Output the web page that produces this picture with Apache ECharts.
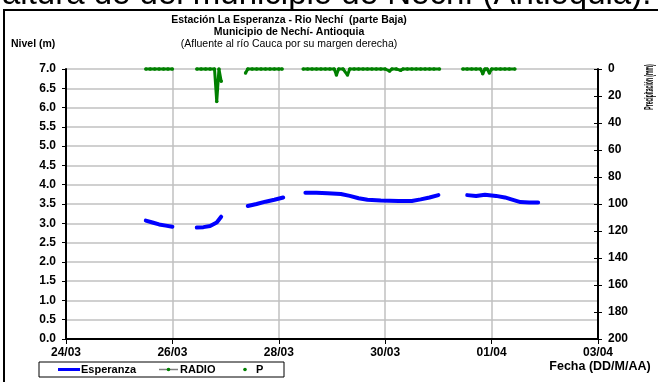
<!DOCTYPE html>
<html>
<head>
<meta charset="utf-8">
<script src="https://cdn.jsdelivr.net/npm/echarts@6/dist/echarts.min.js"></script>
<style>html,body{margin:0;padding:0;background:#fff;}#c{width:658px;height:382px;}</style>
</head>
<body>
<div id="c"></div>
<script>
// ---- data (hours since 24/03 00:00) ----
const xTickLabels = ["24/03", "26/03", "28/03", "30/03", "01/04", "03/04"];
const espHours = [36, 39, 42, 45, 48, 53,
  59, 62, 65, 68, 70, 76,
  82, 86, 90, 94, 98, 103,
  108, 113, 118, 124, 128, 132, 136, 142, 150, 156, 160, 164, 168, 174,
  181, 185, 189, 194, 198, 202, 205, 209, 213];
const espLevel = [3.07, 3.02, 2.97, 2.94, 2.91, null,
  2.89, 2.90, 2.93, 3.02, 3.17, null,
  3.45, 3.50, 3.56, 3.61, 3.67, null,
  3.79, 3.79, 3.78, 3.76, 3.71, 3.65, 3.61, 3.59, 3.58, 3.58, 3.62, 3.67, 3.73, null,
  3.73, 3.71, 3.74, 3.71, 3.67, 3.60, 3.55, 3.54, 3.54];
const pHours = [36, 38, 40, 42, 44, 46, 48, 53,
  59, 61, 63, 65, 67, 68, 69, 70, 76,
  81, 82, 84, 86, 88, 90, 92, 94, 96, 97.5, 103,
  107, 109, 111, 113, 115, 117, 119, 121, 122, 123, 125, 127, 128, 130, 132, 134, 136, 138, 140, 142, 144, 146, 147, 149, 151, 152, 154, 156, 158, 160, 162, 164, 166, 168.5, 174,
  179, 181, 183, 185, 187, 188, 189, 190, 191, 192, 194, 196, 198, 200, 202.5];
const pMm = [0, 0, 0, 0, 0, 0, 0, null,
  0, 0, 0, 0, 0, 24, 0, 9, null,
  3, 0, 0, 0, 0, 0, 0, 0, 0, 0, null,
  0, 0, 0, 0, 0, 0, 0, 0, 4.5, 0, 0, 4.5, 0, 0, 0, 0, 0, 0, 0, 0, 0, 1.5, 0, 0, 1, 0, 0, 0, 0, 0, 0, 0, 0, 0, null,
  0, 0, 0, 0, 0, 3.5, 0, 0, 3, 0, 0, 0, 0, 0, 0];

const espData = espHours.map((h, i) => [h, espLevel[i] === null ? '-' : espLevel[i]]);
const pData = pHours.map((h, i) => [h, pMm[i] === null ? '-' : pMm[i]]);

const GREEN = '#008000';
const chart = echarts.init(document.getElementById('c'), null, {renderer: 'canvas'});
const legendFont = 'bold 11px "Liberation Sans", Arial, sans-serif';

chart.setOption({
  animation: false,
  backgroundColor: '#fff',
  grid: {left: 66, right: 60, top: 69, bottom: 43, containLabel: false},
  xAxis: {
    type: 'value', min: 0, max: 240, interval: 48,
    axisLine: {show: true, onZero: false, lineStyle: {color: '#000', width: 2}},
    axisTick: {show: true, inside: false, length: 5, lineStyle: {color: '#000', width: 1}},
    axisLabel: {margin: 8, color: '#000', fontWeight: 'bold', fontSize: 12, fontFamily: 'Liberation Sans',
      formatter: v => xTickLabels[Math.round(v / 48)] || ''},
    splitLine: {show: true, lineStyle: {color: '#c0c0c0', width: 1.5}}
  },
  yAxis: [
    {
      type: 'value', min: 0, max: 7, interval: 0.5, position: 'left',
      axisLine: {show: true, lineStyle: {color: '#000', width: 2}},
      axisTick: {show: true, inside: false, length: 4, lineStyle: {color: '#000'}},
      axisLabel: {margin: 10, color: '#000', fontWeight: 'bold', fontSize: 12, fontFamily: 'Liberation Sans',
        formatter: v => v.toFixed(1)},
      splitLine: {show: true, lineStyle: {color: '#c0c0c0', width: 1.5}}
    },
    {
      type: 'value', min: 0, max: 200, interval: 20, inverse: true, position: 'right',
      axisLine: {show: true, lineStyle: {color: '#000', width: 2}},
      axisTick: {show: true, inside: false, length: 4, lineStyle: {color: '#000'}},
      axisLabel: {margin: 10, color: '#000', fontWeight: 'bold', fontSize: 12, fontFamily: 'Liberation Sans'},
      splitLine: {show: false}
    },
    {
      type: 'value', min: 0, max: 200, interval: 20, inverse: true, position: 'right',
      axisLine: {show: false},
      axisTick: {show: true, inside: true, length: 4, lineStyle: {color: '#000'}},
      axisLabel: {show: false},
      splitLine: {show: false}
    }
  ],
  series: [
    {
      name: 'Esperanza', type: 'line', yAxisIndex: 0, data: espData,
      showSymbol: false, symbol: 'none', connectNulls: false, smooth: false, clip: false,
      lineStyle: {color: '#0000ff', width: 4, cap: 'round', join: 'round'}, z: 3
    },
    {
      name: 'RADIO', type: 'line', yAxisIndex: 1, data: pData,
      symbol: 'circle', symbolSize: 3, showSymbol: true, connectNulls: false, clip: false,
      itemStyle: {color: GREEN}, lineStyle: {color: GREEN, width: 3}, z: 4
    },
    {
      name: 'P', type: 'scatter', yAxisIndex: 1, data: pData, clip: false,
      symbol: 'circle', symbolSize: 3.5, itemStyle: {color: GREEN}, z: 5
    }
  ],
  graphic: [
    {type: 'text', x: 2, y: -5, silent: true,
      style: {text: 'altura de del municipio de Nechí (Antioquia).', font: '33px "Liberation Sans", Arial, sans-serif', fill: '#000', align: 'left', verticalAlign: 'middle'}},
    {type: 'rect', silent: true,
      shape: {x: 4, y: 10, width: 700, height: 400}, style: {fill: 'none', stroke: '#000', lineWidth: 2}},
    {type: 'text', x: 289, y: 20, style: {text: 'Estación La Esperanza - Rio Nechí  (parte Baja)', font: 'bold 10.5px "Liberation Sans", Arial', fill: '#000', align: 'center', verticalAlign: 'middle'}},
    {type: 'text', x: 289, y: 32, style: {text: 'Municipio de Nechí- Antioquia', font: 'bold 10.5px "Liberation Sans", Arial', fill: '#000', align: 'center', verticalAlign: 'middle'}},
    {type: 'text', x: 289, y: 44, style: {text: '(Afluente al río Cauca por su margen derecha)', font: '10.5px "Liberation Sans", Arial', fill: '#000', align: 'center', verticalAlign: 'middle'}},
    {type: 'text', x: 11, y: 44, style: {text: 'Nivel (m)', font: 'bold 10.5px "Liberation Sans", Arial', fill: '#000', align: 'left', verticalAlign: 'middle'}},
    {type: 'text', x: 650, y: 87, rotation: Math.PI / 2, scaleX: 0.42, scaleY: 1,
      style: {text: 'Precipitación (mm)', font: 'bold 12px "Liberation Sans", Arial', fill: '#000', align: 'center', verticalAlign: 'middle'}},
    {type: 'text', x: 600, y: 367, style: {text: 'Fecha (DD/M/AA)', font: 'bold 12.5px "Liberation Sans", Arial', fill: '#000', align: 'center', verticalAlign: 'middle'}},
    // legend
    {type: 'rect', shape: {x: 39, y: 362, width: 245, height: 15}, style: {fill: '#fff', stroke: '#000', lineWidth: 1}},
    {type: 'line', shape: {x1: 58, y1: 369.5, x2: 80, y2: 369.5}, style: {stroke: '#0000ff', lineWidth: 3}},
    {type: 'text', x: 81, y: 370, style: {text: 'Esperanza', font: legendFont, fill: '#000', align: 'left', verticalAlign: 'middle'}},
    {type: 'line', shape: {x1: 159, y1: 369.5, x2: 178, y2: 369.5}, style: {stroke: '#808080', lineWidth: 1.5}},
    {type: 'circle', shape: {cx: 168.5, cy: 369.5, r: 1.8}, style: {fill: GREEN}},
    {type: 'text', x: 180, y: 370, style: {text: 'RADIO', font: legendFont, fill: '#000', align: 'left', verticalAlign: 'middle'}},
    {type: 'circle', shape: {cx: 245, cy: 369.5, r: 1.8}, style: {fill: GREEN}},
    {type: 'text', x: 256, y: 370, style: {text: 'P', font: legendFont, fill: '#000', align: 'left', verticalAlign: 'middle'}}
  ]
});
</script>
</body>
</html>
